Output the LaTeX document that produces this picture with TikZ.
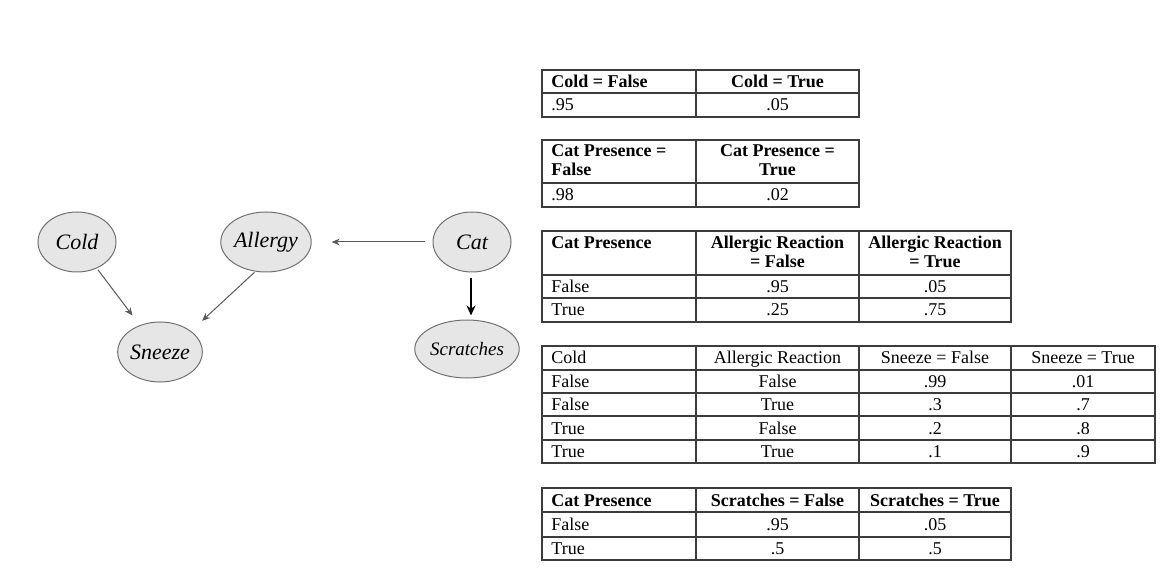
\documentclass[tikz,border=0pt]{standalone}
\usepackage{fontspec}
\setmainfont{Liberation Serif}
\usetikzlibrary{arrows.meta}
\usetikzlibrary{shapes.geometric}

\definecolor{nodefill}{HTML}{E6E6E6}
\definecolor{nodeline}{HTML}{707070}
\definecolor{gridcol}{HTML}{3C3C3C}

\newcommand\tabfont{\fontsize{9}{9.5}\selectfont}
% one table: left, right, top, bottom, inner columns, inner rows
\newcommand\drawgrid[6]{
  \draw[tabline] (#1,#3) rectangle (#2,#4);
  \foreach \gx in {#5} {\draw[tabline] (\gx,#3) -- (\gx,#4);}
  \foreach \gy in {#6} {\draw[tabline] (#1,\gy) -- (#2,\gy);}
}
\newcommand\colB{777.5}
\newcommand\colC{935}
\newcommand\colD{1083}

\begin{document}
\begin{tikzpicture}[
    x=0.5pt,y=-0.5pt,
    var/.style={ellipse,draw=nodeline,fill=nodefill,line width=0.5pt,
      minimum width=39pt,minimum height=30pt,inner sep=0pt,
      font=\fontsize{11}{12}\selectfont\itshape},
    arr/.style={-{Stealth[length=4pt,width=3.4pt]},draw=black!65,line width=0.5pt},
    tabline/.style={draw=gridcol,line width=0.6pt},
    lcell/.style={anchor=west,inner sep=0pt,font=\tabfont,
      text height=7pt,text depth=1pt},
    ccell/.style={lcell,anchor=center},
    lhead/.style={anchor=west,align=left,inner sep=0pt,font=\tabfont},
    chead/.style={lhead,anchor=center,align=center}
  ]
  \useasboundingbox (0,0) rectangle (1171,571);

  % network
  \node[var] (cold) at (77,242) {Cold};
  \node[var] (allergy) at (266,242) {Allergy};
  \node[var] (cat) at (472,242) {Cat};
  \node[var] (sneeze) at (160,352) {Sneeze};
  \node[var,minimum width=46pt,minimum height=29pt,
    font=\fontsize{9.5}{11}\selectfont\itshape] (scratches) at (467,349) {Scratches};

  \draw[arr,shorten <=4pt,shorten >=10pt] (cat) -- (allergy);
  \draw[arr,-{Stealth[length=5pt,width=4.5pt]},draw=black,line width=0.8pt,
    shorten <=3pt,shorten >=2pt]
    (cat.south -| 471,0) -- (scratches.north -| 471,0);
  \draw[arr,shorten <=1pt,shorten >=6pt] (cold) -- (sneeze);
  \draw[arr,shorten <=0.5pt,shorten >=7.5pt] (allergy.250) -- (sneeze.34);

  % P(Cold)
  \drawgrid{542}{859}{70}{117}{696}{93}
  \node[lcell] (coldF) at (551,81.5) {\textbf{Cold = False}};
  \node[ccell] (coldT) at (\colB,81.5) {\textbf{Cold = True}};
  \node[lcell] (coldFp) at (551,105) {.95};
  \node[ccell] (coldTp) at (\colB,105) {.05};

  % P(Cat)
  \drawgrid{542}{859}{140}{207}{696}{183}
  \node[lhead] (catF) at (551,160.5) {\textbf{Cat Presence =}\\\textbf{False}};
  \node[chead] (catT) at (\colB,160.5) {\textbf{Cat Presence =}\\\textbf{True}};
  \node[lcell] (catFp) at (551,195) {.98};
  \node[ccell] (catTp) at (\colB,195) {.02};

  % P(Allergy | Cat)
  \drawgrid{542}{1011}{231}{322}{696,859}{275,298}
  \node[lcell] (algCat) at (551,243) {\textbf{Cat Presence}};
  \node[chead] (algF) at (\colB,251.5) {\textbf{Allergic Reaction}\\\textbf{= False}};
  \node[chead] (algT) at (\colC,251.5) {\textbf{Allergic Reaction}\\\textbf{= True}};
  \node[lcell] (algR1) at (551,286.5) {False};
  \node[ccell] (algR1F) at (\colB,286.5) {.95};
  \node[ccell] (algR1T) at (\colC,286.5) {.05};
  \node[lcell] (algR2) at (551,310) {True};
  \node[ccell] (algR2F) at (\colB,310) {.25};
  \node[ccell] (algR2T) at (\colC,310) {.75};

  % P(Sneeze | Cold, Allergy)
  \drawgrid{542}{1155}{346}{463}{696,859,1011}{370,393,416,440}
  \node[lcell] (snzCold) at (551,358) {Cold};
  \node[ccell] (snzAlg) at (\colB,358) {Allergic Reaction};
  \node[ccell] (snzF) at (\colC,358) {Sneeze = False};
  \node[ccell] (snzT) at (\colD,358) {Sneeze = True};
  \foreach \c/\a/\pf/\pt/\y [count=\i] in
    {False/False/.99/.01/381.5, False/True/.3/.7/404.5,
     True/False/.2/.8/428, True/True/.1/.9/451.5} {
    \node[lcell] (snzR\i c) at (551,\y) {\c};
    \node[ccell] (snzR\i a) at (\colB,\y) {\a};
    \node[ccell] (snzR\i f) at (\colC,\y) {\pf};
    \node[ccell] (snzR\i t) at (\colD,\y) {\pt};
  }

  % P(Scratches | Cat)
  \drawgrid{542}{1011}{488}{560}{696,859}{512,537}
  \node[lcell] (scrCat) at (551,500) {\textbf{Cat Presence}};
  \node[ccell] (scrF) at (\colB,500) {\textbf{Scratches = False}};
  \node[ccell] (scrT) at (\colC,500) {\textbf{Scratches = True}};
  \node[lcell] (scrR1) at (551,524.5) {False};
  \node[ccell] (scrR1F) at (\colB,524.5) {.95};
  \node[ccell] (scrR1T) at (\colC,524.5) {.05};
  \node[lcell] (scrR2) at (551,548.5) {True};
  \node[ccell] (scrR2F) at (\colB,548.5) {.5};
  \node[ccell] (scrR2T) at (\colC,548.5) {.5};
\end{tikzpicture}
\end{document}
